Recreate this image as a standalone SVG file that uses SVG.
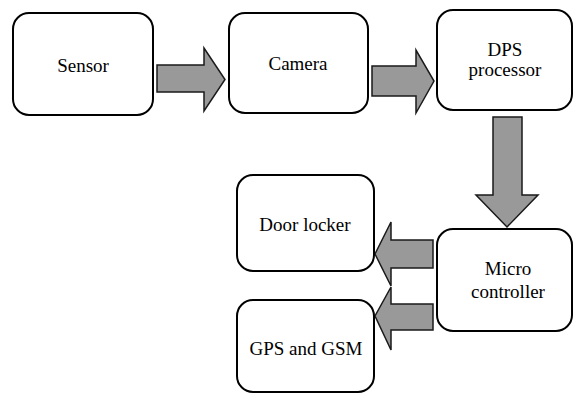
<svg xmlns="http://www.w3.org/2000/svg" width="574" height="394" viewBox="0 0 574 394">
<style>
.box{fill:#fff;stroke:#000;stroke-width:2}
.arr{fill:#999;stroke:#1a1a1a;stroke-width:1.5;stroke-linejoin:miter}
.t{font-family:"Liberation Serif","Times New Roman",serif;font-size:19px;fill:#000;text-anchor:middle}
</style>
<rect width="574" height="394" fill="#fff"/>
<g id="connectors">
<polygon class="arr" points="157,65 204,65 204,48 225,79.5 204,111 204,92 157,92"/>
<polygon class="arr" points="372,66 416,66 416,50 434,81 416,113 416,96 372,96"/>
<polygon class="arr" points="493,117 522,117 522,195 538,195 507,227 476,195 493,195"/>
<polygon class="arr" points="433,240 391,240 391,222 375,254 391,286 391,268 433,268"/>
<polygon class="arr" points="433,304 391,304 391,287 375,316 391,350 391,330 433,330"/>
</g>
<g id="sensor"><rect class="box" x="13" y="13" width="140" height="102" rx="16"/><text class="t" x="83" y="72">Sensor</text></g>
<g id="camera"><rect class="box" x="229" y="13" width="139" height="100" rx="16"/><text class="t" x="298" y="70">Camera</text></g>
<g id="dps"><rect class="box" x="437" y="10" width="135" height="100" rx="16"/><text class="t" x="505" y="56">DPS</text><text class="t" x="505" y="76">processor</text></g>
<g id="micro"><rect class="box" x="437" y="229" width="135" height="102" rx="16"/><text class="t" x="508" y="275">Micro</text><text class="t" x="508" y="298">controller</text></g>
<g id="door"><rect class="box" x="237" y="175" width="137" height="96" rx="16"/><text class="t" x="305" y="231">Door locker</text></g>
<g id="gps"><rect class="box" x="237" y="300" width="137" height="92" rx="16"/><text class="t" x="306" y="355">GPS and GSM</text></g>
</svg>
